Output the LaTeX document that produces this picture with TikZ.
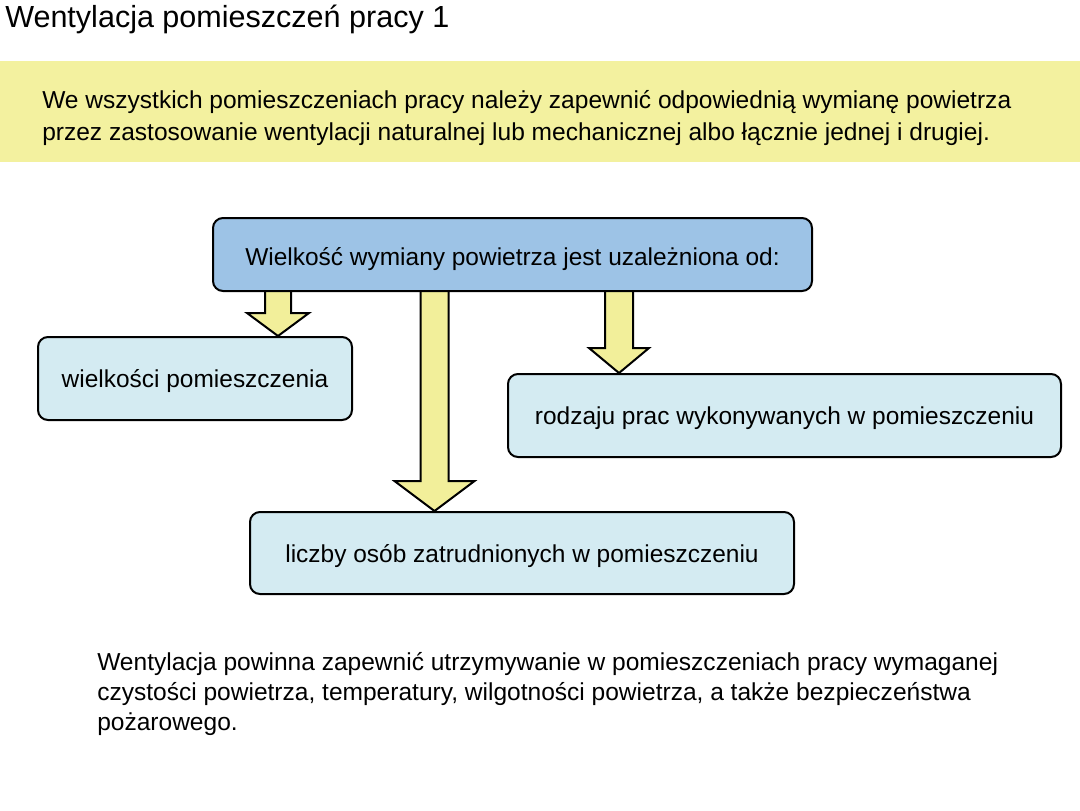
\documentclass[tikz,border=0pt]{standalone}
\usepackage{fontspec}
\setmainfont{Liberation Sans}
\usetikzlibrary{calc}
\definecolor{bandyellow}{HTML}{F3F19F}
\definecolor{arrowyellow}{HTML}{F2EF9A}
\definecolor{topblue}{HTML}{9DC3E6}
\definecolor{lightbox}{HTML}{D4EBF2}
\tikzset{
  box/.style={draw=black, line width=1.5pt, rounded corners=7.5pt, inner sep=0pt, text depth=0pt, font=\fontsize{18.35}{22}\selectfont},
  mainbox/.style={box, fill=topblue},
  subbox/.style={box, fill=lightbox},
  blockarrow/.style={draw=black, line width=1.5pt, fill=arrowyellow, line join=miter},
  bodytext/.style={font=\fontsize{18.4}{22.5}\selectfont, align=left, inner sep=0pt, anchor=base west},
}
\newcommand\myblockarrow[5]{%
  \draw[blockarrow] ($(#1)+(-#3,0)$) -- ($(#2)+(-#3,-#5)$) -- ($(#2)+(-#4,-#5)$) -- (#2) -- ($(#2)+(#4,-#5)$) -- ($(#2)+(#3,-#5)$) -- ($(#1)+(#3,0)$);}
\begin{document}
\begin{tikzpicture}[x=0.75pt,y=-0.75pt]
\useasboundingbox (0,0) rectangle (1080,810);
% title
\node[anchor=base west, inner sep=0pt, font=\fontsize{22.9}{27}\selectfont] (title) at (5,27) {Wentylacja pomieszczeń pracy 1};
% yellow band
\fill[bandyellow] (0,61) rectangle (1080,162);
\node[bodytext, font=\fontsize{18.4}{24}\selectfont] (intro) at (42,140) {We wszystkich pomieszczeniach pracy należy zapewnić odpowiednią wymianę powietrza\\przez zastosowanie wentylacji naturalnej lub mechanicznej albo łącznie jednej i drugiej.};
% boxes (positions)
\coordinate (ctop) at (512.5,254.5);
\coordinate (cleft) at (195,378.5);
\coordinate (cright) at (784.5,415.5);
\coordinate (cbottom) at (522,553);
\path (ctop) node[mainbox, minimum width=449.25pt, minimum height=54.75pt, draw=none, fill=none] (top) {};
\path (cleft) node[subbox, minimum width=235.5pt, minimum height=62.25pt, draw=none, fill=none] (left) {};
\path (cright) node[subbox, minimum width=414.75pt, minimum height=62.25pt, draw=none, fill=none] (right) {};
\path (cbottom) node[subbox, minimum width=408pt, minimum height=61.5pt, draw=none, fill=none] (bottom) {};
% arrows
\coordinate (x1) at (278,0);
\coordinate (x2) at (434.5,0);
\coordinate (x3) at (619,0);
\myblockarrow{x1 |- top.south}{x1 |- left.north}{13}{31}{23}
\myblockarrow{x2 |- top.south}{x2 |- bottom.north}{14}{40}{30}
\myblockarrow{x3 |- top.south}{x3 |- right.north}{14}{30}{25}
% visible boxes
\node[mainbox, minimum width=449.25pt, minimum height=54.75pt] (topv) at (ctop) {\raisebox{-2.5pt}{Wielkość wymiany powietrza jest uzależniona od:}};
\node[subbox, minimum width=235.5pt, minimum height=62.25pt] (leftv) at (cleft) {wielkości pomieszczenia};
\node[subbox, minimum width=414.75pt, minimum height=62.25pt] (rightv) at (cright) {rodzaju prac wykonywanych w pomieszczeniu};
\node[subbox, minimum width=408pt, minimum height=61.5pt] (bottomv) at (cbottom) {liczby osób zatrudnionych w pomieszczeniu};
% closing text
\node[bodytext] (outro) at (97,730) {Wentylacja powinna zapewnić utrzymywanie w pomieszczeniach pracy wymaganej\\czystości powietrza, temperatury, wilgotności powietrza, a także bezpieczeństwa\\pożarowego.};
\end{tikzpicture}
\end{document}
